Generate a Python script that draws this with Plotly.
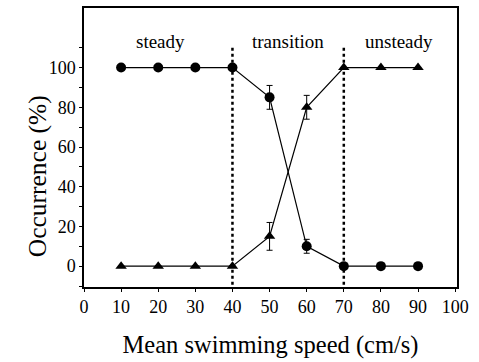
import plotly.graph_objects as go

# Mean swimming speed (cm/s)
speed = [10, 20, 30, 40, 50, 60, 70, 80, 90]

# Occurrence (%) of steady swimming and its error
steady = [100, 100, 100, 100, 85, 10, 0, 0, 0]
steady_err = [0, 0, 0, 0, 6, 3.5, 0, 0, 0]

# Occurrence (%) of unsteady swimming and its error
unsteady = [0, 0, 0, 0, 15, 80, 100, 100, 100]
unsteady_err = [0, 0, 0, 0, 7, 6, 0, 0, 0]

# Regime boundaries and labels
boundaries = [40, 70]
regime_labels = ["steady", "transition", "unsteady"]
regime_x = [20.7, 55, 85]

FONT = "Liberation Serif"

fig = go.Figure()

for b in boundaries:
    fig.add_trace(go.Scatter(
        x=[b, b], y=[110, -10.5], mode="lines",
        line=dict(color="black", width=2.5, dash="dot"),
        showlegend=False, hoverinfo="skip"))

fig.add_trace(go.Scatter(
    x=speed, y=steady, mode="lines+markers",
    line=dict(color="black", width=1.2),
    marker=dict(symbol="circle", size=10, color="black"),
    error_y=dict(type="data", array=steady_err, visible=True,
                 color="black", thickness=1, width=3),
    showlegend=False))

fig.add_trace(go.Scatter(
    x=speed, y=unsteady, mode="lines+markers",
    line=dict(color="black", width=1.2),
    marker=dict(symbol="triangle-up", size=10, color="black"),
    error_y=dict(type="data", array=unsteady_err, visible=True,
                 color="black", thickness=1, width=3),
    showlegend=False))

for lx, lt in zip(regime_x, regime_labels):
    fig.add_annotation(x=lx, y=113, text=lt, showarrow=False,
                       font=dict(family=FONT, size=19, color="black"))

# y-axis title, placed lower than the axis midpoint
fig.add_annotation(x=0, xref="paper", xshift=-63, y=45, yref="y",
                   text="Occurrence (%)", textangle=-90, showarrow=False,
                   font=dict(family=FONT, size=25.5, color="black"))

fig.update_layout(
    width=479, height=362,
    margin=dict(l=84, r=22, t=6, b=75),
    plot_bgcolor="white", paper_bgcolor="white",
    font=dict(family=FONT, color="black"),
)

fig.update_xaxes(
    range=[0, 100.5], tickvals=list(range(0, 101, 10)),
    ticks="outside", ticklen=3, tickcolor="black",
    showline=True, linecolor="black", linewidth=1.5, mirror=True,
    showgrid=False, zeroline=False,
    tickfont=dict(family=FONT, size=18),
    title=dict(text="Mean swimming speed (cm/s)", standoff=20,
               font=dict(family=FONT, size=24.5)),
)

fig.update_yaxes(
    range=[-10.5, 130], tickvals=list(range(-10, 111, 10)),
    ticktext=["" if v % 20 or v < 0 else str(v) for v in range(-10, 111, 10)],
    ticks="outside", ticklen=3, tickcolor="black",
    showline=True, linecolor="black", linewidth=1.5, mirror=True,
    showgrid=False, zeroline=False,
    tickfont=dict(family=FONT, size=18),
)

fig.write_html("out.html")
